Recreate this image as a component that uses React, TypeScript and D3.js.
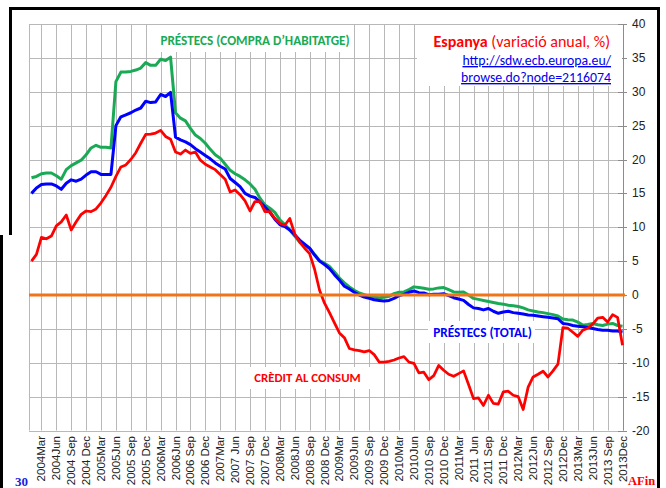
import React from "react";
import * as d3 from "d3";

// Monthly data, 2004Jan .. 2013Dec (120 months), annual % change
const housingLoans = [
  17.3, 17.5, 17.9, 18.0, 18.0, 17.6, 17.1, 18.5, 19.1, 19.5, 19.9, 20.7,
  21.7, 22.1, 21.8, 21.8, 21.7, 31.5, 32.9, 32.9, 33.0, 33.2, 33.5, 34.3,
  33.9, 33.9, 34.8, 34.6, 35.1, 26.9, 26.1, 25.7, 24.6, 23.6, 23.1, 22.4,
  21.5, 20.7, 20.2, 19.3, 18.4, 17.9, 17.5, 17.0, 16.4, 15.6, 14.3, 13.3,
  12.8, 12.2, 11.1, 10.4, 9.6, 8.7, 7.8, 7.3, 6.9, 6.0, 5.1, 4.7,
  4.2, 3.4, 2.5, 1.8, 1.2, 0.7, 0.3, 0.05, -0.2, -0.35, -0.4, -0.35,
  -0.2, 0.2, 0.4, 0.45, 0.8, 1.2, 1.1, 1.0, 0.85, 0.9, 1.05, 1.1,
  0.8, 0.45, 0.4, 0.45, 0.0, -0.5, -0.65, -0.8, -0.95, -1.1, -1.25, -1.35,
  -1.5, -1.6, -1.7, -1.9, -2.2, -2.35, -2.5, -2.6, -2.75, -2.9, -3.1, -3.55,
  -3.65, -3.7, -4.0, -4.45, -4.35, -4.2, -4.4, -4.5, -4.3, -4.2, -4.5, -4.6,
];

const totalLoans = [
  15.0, 15.8, 16.3, 16.4, 16.4, 16.1, 15.6, 16.5, 17.0, 16.8, 17.1, 17.7,
  18.2, 18.2, 17.8, 17.8, 17.8, 25.0, 26.3, 26.6, 26.9, 27.3, 27.6, 28.6,
  28.4, 28.5, 29.6, 29.3, 29.9, 23.3, 22.9, 22.6, 22.2, 21.6, 21.1, 20.6,
  20.1, 19.5, 19.0, 18.6, 17.2, 16.6, 16.0, 15.0, 14.6, 14.4, 13.7, 13.0,
  12.2, 11.2, 10.4, 10.1, 9.6, 8.9, 8.1, 7.5, 6.9, 5.9, 5.0, 4.5,
  3.9, 3.0, 2.2, 1.3, 0.9, 0.4, 0.0, -0.3, -0.5, -0.7, -0.8, -0.9,
  -0.8, -0.5, -0.1, 0.1, 0.4, 0.6, 0.35, 0.3, 0.05, 0.1, 0.1, 0.2,
  -0.1, -0.4, -0.6, -0.8, -1.4, -1.9, -2.0, -2.2, -2.0, -2.4, -2.7, -2.5,
  -2.4, -2.6, -2.7, -2.8, -2.95, -3.0, -3.1, -3.2, -3.3, -3.4, -3.5, -4.2,
  -4.3, -4.5, -4.6, -4.7, -4.8, -4.95, -5.1, -5.2, -5.2, -5.3, -5.3, -5.45,
];

const consumerCredit = [
  5.0, 6.0, 8.5, 8.3, 8.7, 10.2, 10.8, 11.8, 9.6, 10.8, 11.9, 12.4,
  12.3, 12.7, 13.6, 14.7, 15.9, 17.5, 18.9, 19.2, 20.0, 21.0, 22.4, 23.7,
  23.75, 23.9, 24.3, 23.4, 23.0, 21.1, 20.8, 21.4, 20.9, 21.1, 19.9, 19.3,
  18.9, 18.5, 17.8, 17.1, 15.2, 15.5, 14.8, 13.9, 12.4, 13.8, 13.8, 12.3,
  12.3, 11.3, 10.6, 10.3, 11.3, 9.0, 7.8, 6.9, 6.1, 3.8, 0.7, -1.2,
  -2.6, -4.1, -5.6, -6.3, -7.9, -8.1, -8.2, -8.4, -8.2, -8.8, -9.9, -9.9,
  -9.8, -9.6, -9.3, -9.1, -9.9, -10.1, -11.5, -11.4, -12.5, -11.9, -10.4, -11.1,
  -11.7, -12.0, -11.6, -11.2, -13.2, -15.3, -15.2, -16.3, -14.8, -16.0, -16.1, -14.3,
  -14.2, -14.8, -15.0, -16.9, -13.6, -12.1, -11.7, -11.25, -12.1, -11.2, -10.2, -4.8,
  -4.9, -5.5, -6.1, -5.2, -4.9, -4.3, -3.4, -3.3, -4.0, -2.9, -3.3, -7.4,
];

const monthNames = ["Jan", "Feb", "Mar", "Apr", "May", "Jun", "Jul", "Aug", "Sep", "Oct", "Nov", "Dec"];
const months = d3.range(120).map((i) => `${2004 + Math.floor(i / 12)}${monthNames[i % 12]}`);

// Tick labels every 3 months (as printed)
const tickLabels = [
  "2004Mar", "2004Jun", "2004 Sep", "2004 Dec",
  "2005Mar", "2005Jun", "2005 Sep", "2005 Dec",
  "2006Mar", "2006Jun", "2006 Sep", "2006 Dec",
  "2007Mar", "2007 Jun", "2007 Sep", "2007 Dec",
  "2008Mar", "2008Jun", "2008 Sep", "2008 Dec",
  "2009Mar", "2009Jun", "2009 Sep", "2009 Dec",
  "2010Mar", "2010Jun", "2010 Sep", "2010 Dec",
  "2011Mar", "2011 Jun", "2011 Sep", "2011 Dec",
  "2012Mar", "2012Jun", "2012 Sep", "2012Dec",
  "2013Mar", "2013Jun", "2013 Sep", "2013Dec",
];
const tickMonthIndex = d3.range(2, 120, 3);
const yTicks = d3.range(-20, 41, 5);

const W = 666;
const H = 488;
const plotL = 29;
const plotR = 625;
const plotT = 24;
const plotB = 430.5;

export default function App() {
  const x = d3.scalePoint<string>().domain(months).range([plotL, plotR]).padding(0.5);
  const y = d3.scaleLinear().domain([-20, 40]).range([plotB, plotT]);
  const line = d3
    .line<number>()
    .x((_, i) => x(months[i]) as number)
    .y((v) => y(v));

  const calibri = "Carlito, Calibri, Lato, 'Open Sans', sans-serif";
  const arial = "'Liberation Sans', Arial, sans-serif";
  const serif = "'Liberation Serif', 'Times New Roman', serif";

  return (
    <svg
      width={W}
      height={H}
      style={{ position: "absolute", left: 0, top: 0, background: "#fff" }}
    >
      <rect x={0} y={0} width={W} height={H} fill="#fff" />
      {/* frame */}
      <path d={`M1.5,${H} V235 M10.5,235 V8.5 H658.5 V${H}`} fill="none" stroke="#000" strokeWidth={3} />

      {/* horizontal grid */}
      {yTicks.map((t) => (
        <line key={"h" + t} x1={plotL} x2={plotR} y1={Math.round(y(t)) + 0.5} y2={Math.round(y(t)) + 0.5} stroke="#b8b8b8" strokeWidth={1} />
      ))}
      {/* vertical grid */}
      <line x1={plotL + 0.5} x2={plotL + 0.5} y1={plotT} y2={plotB} stroke="#b8b8b8" strokeWidth={1} />
      {tickMonthIndex.map((mi) => {
        const xx = Math.round(x(months[mi]) as number) + 0.5;
        return <line key={"v" + mi} x1={xx} x2={xx} y1={plotT} y2={plotB} stroke="#b8b8b8" strokeWidth={1} />;
      })}

      {/* right axis */}
      <line x1={623.5} x2={623.5} y1={plotT} y2={plotB} stroke="#8c8c8c" strokeWidth={1} />
      {yTicks.map((t) => (
        <g key={"yt" + t}>
          <line x1={618} x2={627} y1={Math.round(y(t)) + 0.5} y2={Math.round(y(t)) + 0.5} stroke="#8c8c8c" strokeWidth={1} />
          <text x={632} y={y(t) + 4} fontFamily={arial} fontSize={12} fill="#222">
            {t}
          </text>
        </g>
      ))}

      {/* x labels */}
      {tickMonthIndex.map((mi, k) => {
        const xx = x(months[mi]) as number;
        return (
          <text
            key={"xl" + mi}
            transform={`translate(${xx + 4},${436}) rotate(-90)`}
            textAnchor="end"
            fontFamily={arial}
            fontSize={11.5}
            fill="#222"
          >
            {tickLabels[k]}
          </text>
        );
      })}

      {/* series */}
      <path d={line(housingLoans) || ""} fill="none" stroke="#1aaa55" strokeWidth={3} strokeLinejoin="round" />
      <path d={line(totalLoans) || ""} fill="none" stroke="#0000ff" strokeWidth={3} strokeLinejoin="round" />
      <path d={line(consumerCredit) || ""} fill="none" stroke="#ff0000" strokeWidth={2.75} strokeLinejoin="round" />
      {/* zero line */}
      <line x1={plotL} x2={plotR} y1={y(0)} y2={y(0)} stroke="#f07418" strokeWidth={3} />

      {/* label boxes */}
      <rect x={158} y={plotT + 1} width={196} height={27} fill="#fff" />
      <text x={255} y={45} textAnchor="middle" fontFamily={calibri} fontWeight="bold" fontSize={13.2} fill="#1aaa55">
        PRÉSTECS (COMPRA D’HABITATGE)
      </text>

      <rect x={417} y={plotT + 1} width={205} height={61} fill="#fff" />
      <text x={610} y={47} textAnchor="end" fontFamily={calibri} fontSize={16} fill="#ff0000">
        <tspan fontWeight="bold">Espanya</tspan> (variació anual, %)
      </text>
      <text x={611} y={65} textAnchor="end" fontFamily={calibri} fontSize={13.8} fill="#0000ee" textDecoration="underline">
        http://sdw.ecb.europa.eu/
      </text>
      <text x={611} y={82} textAnchor="end" fontFamily={calibri} fontSize={13.8} fill="#0000ee" textDecoration="underline">
        browse.do?node=2116074
      </text>

      <rect x={428} y={321} width={107} height={22} fill="#fff" />
      <text x={482.5} y={337} textAnchor="middle" fontFamily={calibri} fontWeight="bold" fontSize={13.3} fill="#0000ff">
        PRÉSTECS (TOTAL)
      </text>

      <rect x={250} y={367} width={125} height={22} fill="#fff" />
      <text x={307.5} y={382} textAnchor="middle" fontFamily={calibri} fontWeight="bold" fontSize={12.8} fill="#ff0000">
        CRÈDIT AL CONSUM
      </text>

      {/* page number & logo */}
      <text x={15} y={486} fontFamily={serif} fontWeight="bold" fontSize={13} fill="#1a1adf">
        30
      </text>
      <text x={628} y={485} fontFamily={serif} fontWeight="bold" fontSize={12.5} fill="#ff0000">
        AFin
      </text>
    </svg>
  );
}
